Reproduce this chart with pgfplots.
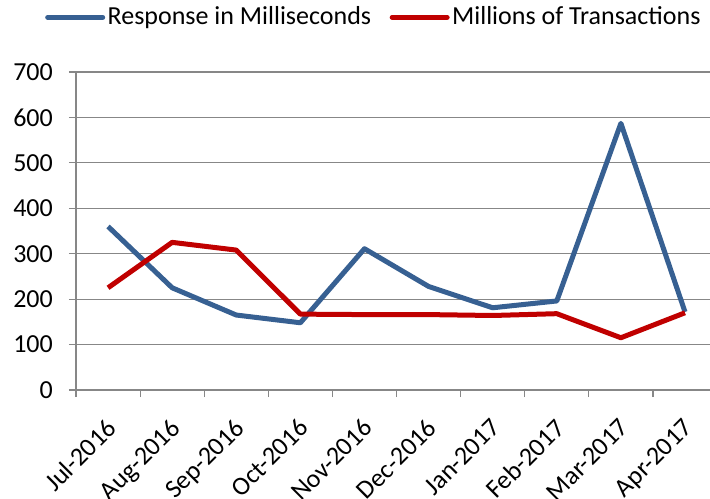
\documentclass[border=0pt]{standalone}
\usepackage{fontspec}
\setmainfont{Carlito}
\usepackage{pgfplots}
\pgfplotsset{compat=1.18}
\definecolor{cblue}{HTML}{376092}
\definecolor{cred}{HTML}{C00000}
\definecolor{cgrid}{HTML}{878787}
\begin{document}
\fontsize{26bp}{30bp}\selectfont
\begin{tikzpicture}
\begin{axis}[
  at={(0,0)}, anchor=south west,
  scale only axis, width=634bp, height=318bp,
  xmin=-0.5, xmax=9.39, ymin=0, ymax=700,
  xtick={0,...,9},
  xticklabels={Jul-2016,Aug-2016,Sep-2016,Oct-2016,Nov-2016,Dec-2016,Jan-2017,Feb-2017,Mar-2017,Apr-2017},
  minor xtick={-0.5,0.5,...,8.5},
  ytick={0,100,...,700},
  /pgf/number format/assume math mode=true,
  ymajorgrids,
  major grid style={cgrid, line width=1.2bp},
  axis x line*=bottom, axis y line*=left,
  axis line style={cgrid, line width=1.2bp, -},
  tick align=outside,
  major tick length=7bp, minor tick length=7bp,
  tick style={cgrid, line width=1.2bp},
  major x tick style={draw=none},
  xticklabel shift=20bp,
  yticklabel shift=16bp,
  xticklabel style={xshift=-3bp, rotate=45, anchor=north east, inner sep=0pt, font=\fontsize{26bp}{30bp}\selectfont},
  yticklabel style={anchor=east, inner sep=0pt, font=\fontsize{26bp}{30bp}\selectfont},
  legend style={at={(-0.0489,1.172)}, anchor=west, draw=none, fill=none,
    legend columns=2, inner sep=0pt,
    font=\fontsize{26bp}{30bp}\selectfont,
    nodes={inner xsep=2.5bp, inner ysep=0pt},
    /tikz/every even column/.append style={column sep=16bp}},
  legend image code/.code={\draw[#1, line cap=round] (0bp,0bp) -- (55bp,0bp);},
]
\addplot[cblue, line width=5bp, line join=round] coordinates {
(0,360) (1,225) (2,165) (3,148) (4,311) (5,228) (6,181) (7,196) (8,587) (9,172)};
\addlegendentry{Response in Milliseconds}
\addplot[cred, line width=5bp, line join=round] coordinates {
(0,225) (1,325) (2,308) (3,167) (4,166) (5,166) (6,164) (7,168) (8,115) (9,170)};
\addlegendentry{Millions of Transactions}
\end{axis}
\pgfresetboundingbox
\path[use as bounding box] (-76bp,-109bp) rectangle (634bp,390bp);
\end{tikzpicture}
\end{document}
